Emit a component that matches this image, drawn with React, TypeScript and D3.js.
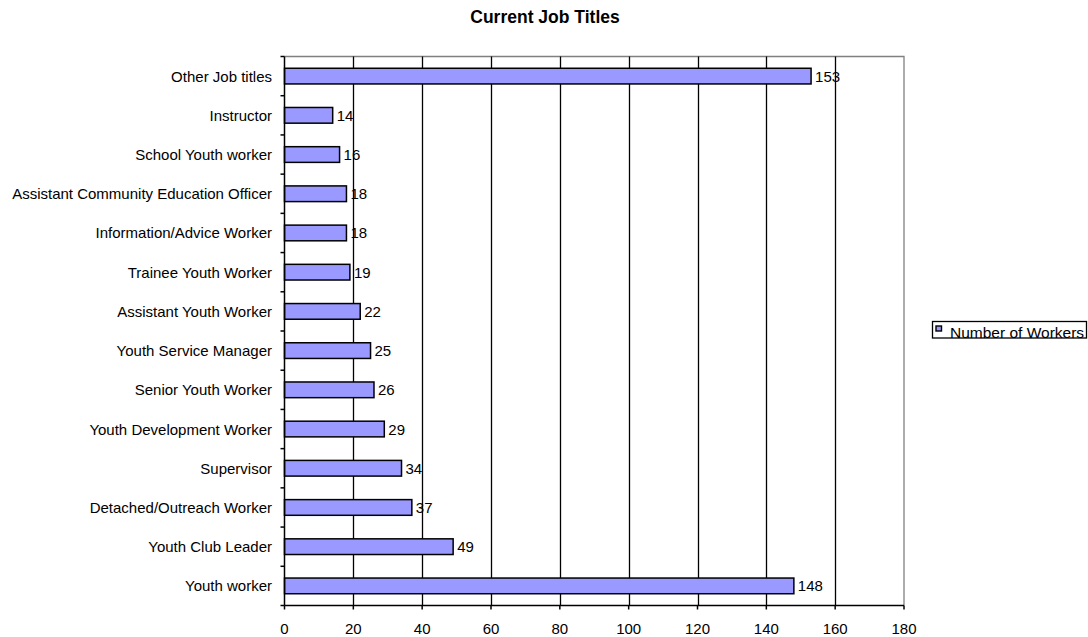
import React, { useEffect, useRef } from "react";
import * as d3 from "d3";

const categories: string[] = [
  "Other Job titles",
  "Instructor",
  "School Youth worker",
  "Assistant Community Education Officer",
  "Information/Advice Worker",
  "Trainee Youth Worker",
  "Assistant Youth Worker",
  "Youth Service Manager",
  "Senior Youth Worker",
  "Youth Development Worker",
  "Supervisor",
  "Detached/Outreach Worker",
  "Youth Club Leader",
  "Youth worker",
];

const workers: number[] = [153, 14, 16, 18, 18, 19, 22, 25, 26, 29, 34, 37, 49, 148];

const xTicks: number[] = [0, 20, 40, 60, 80, 100, 120, 140, 160, 180];

const title = "Current Job Titles";
const seriesName = "Number of Workers";

const W = 1088;
const H = 637;
const FONT = "Arial, 'Liberation Sans', sans-serif";
const FS = 15;

export default function App() {
  const ref = useRef<SVGSVGElement | null>(null);

  useEffect(() => {
    const svg = d3.select(ref.current);
    svg.selectAll("*").remove();

    const left = 284.5;
    const right = 904;
    const top = 56.5;
    const bottom = 605.5;

    const x = d3.scaleLinear().domain([0, 180]).range([left, right]);
    const y = d3.scaleBand<string>().domain(categories).range([top, bottom]).paddingInner(0).paddingOuter(0);
    const band = y.bandwidth();
    const barH = band / 2.5;

    // title
    svg
      .append("text")
      .attr("x", 545)
      .attr("y", 23)
      .attr("text-anchor", "middle")
      .attr("font-family", FONT)
      .attr("font-weight", "bold")
      .attr("font-size", 17.5)
      .text(title);

    // plot frame: grey top/right
    svg
      .append("path")
      .attr("d", `M${left},${top}H${right}V${bottom}`)
      .attr("fill", "none")
      .attr("stroke", "#808080")
      .attr("stroke-width", 1.3);

    // vertical gridlines
    svg
      .append("g")
      .selectAll("line")
      .data(xTicks.filter((t) => t > 0 && t < 180))
      .join("line")
      .attr("x1", (d) => Math.round(x(d)) + 0.5)
      .attr("x2", (d) => Math.round(x(d)) + 0.5)
      .attr("y1", top)
      .attr("y2", bottom)
      .attr("stroke", "#000")
      .attr("stroke-width", 1.3);

    // bars
    svg
      .append("g")
      .selectAll("rect")
      .data(categories)
      .join("rect")
      .attr("x", left)
      .attr("y", (d) => (y(d) as number) + band / 2 - barH / 2)
      .attr("width", (d, i) => x(workers[i]) - left)
      .attr("height", barH)
      .attr("fill", "#9999FF")
      .attr("stroke", "#000")
      .attr("stroke-width", 1.5);

    // value labels
    svg
      .append("g")
      .selectAll("text")
      .data(categories)
      .join("text")
      .attr("x", (d, i) => x(workers[i]) + 4)
      .attr("y", (d) => (y(d) as number) + band / 2 + 5.5)
      .attr("font-family", FONT)
      .attr("font-size", FS)
      .attr("fill", "#000")
      .text((d, i) => String(workers[i]));

    // y axis
    svg
      .append("line")
      .attr("x1", left)
      .attr("x2", left)
      .attr("y1", top)
      .attr("y2", bottom)
      .attr("stroke", "#000")
      .attr("stroke-width", 1.5);

    const yTicks = d3.range(categories.length + 1).map((i) => top + i * band);
    svg
      .append("g")
      .selectAll("line")
      .data(yTicks)
      .join("line")
      .attr("x1", left - 4)
      .attr("x2", left)
      .attr("y1", (d) => d)
      .attr("y2", (d) => d)
      .attr("stroke", "#000")
      .attr("stroke-width", 1.5);

    svg
      .append("g")
      .selectAll("text")
      .data(categories)
      .join("text")
      .attr("x", 272)
      .attr("y", (d) => (y(d) as number) + band / 2 + 5.5)
      .attr("text-anchor", "end")
      .attr("font-family", FONT)
      .attr("font-size", FS)
      .attr("fill", "#000")
      .text((d) => d);

    // x axis
    svg
      .append("line")
      .attr("x1", left)
      .attr("x2", right)
      .attr("y1", bottom)
      .attr("y2", bottom)
      .attr("stroke", "#000")
      .attr("stroke-width", 1.5);

    svg
      .append("g")
      .selectAll("line")
      .data(xTicks)
      .join("line")
      .attr("x1", (d) => x(d))
      .attr("x2", (d) => x(d))
      .attr("y1", bottom)
      .attr("y2", bottom + 4)
      .attr("stroke", "#000")
      .attr("stroke-width", 1.5);

    svg
      .append("g")
      .selectAll("text")
      .data(xTicks)
      .join("text")
      .attr("x", (d) => x(d))
      .attr("y", 634)
      .attr("text-anchor", "middle")
      .attr("font-family", FONT)
      .attr("font-size", FS)
      .attr("fill", "#000")
      .text((d) => String(d));

    // legend
    const lg = svg.append("g");
    lg.append("rect")
      .attr("x", 932.5)
      .attr("y", 321.5)
      .attr("width", 154)
      .attr("height", 16.5)
      .attr("fill", "#fff")
      .attr("stroke", "#000")
      .attr("stroke-width", 1.3);
    lg.append("rect")
      .attr("x", 936)
      .attr("y", 326)
      .attr("width", 5.5)
      .attr("height", 5)
      .attr("fill", "#9999FF")
      .attr("stroke", "#000")
      .attr("stroke-width", 1.4);
    lg.append("text")
      .attr("x", 950)
      .attr("y", 338)
      .attr("font-family", FONT)
      .attr("font-size", 15.5)
      .attr("fill", "#000")
      .text(seriesName);
  }, []);

  return (
    <svg
      ref={ref}
      width={W}
      height={H}
      style={{ position: "absolute", left: 0, top: 0, background: "#fff" }}
    />
  );
}
